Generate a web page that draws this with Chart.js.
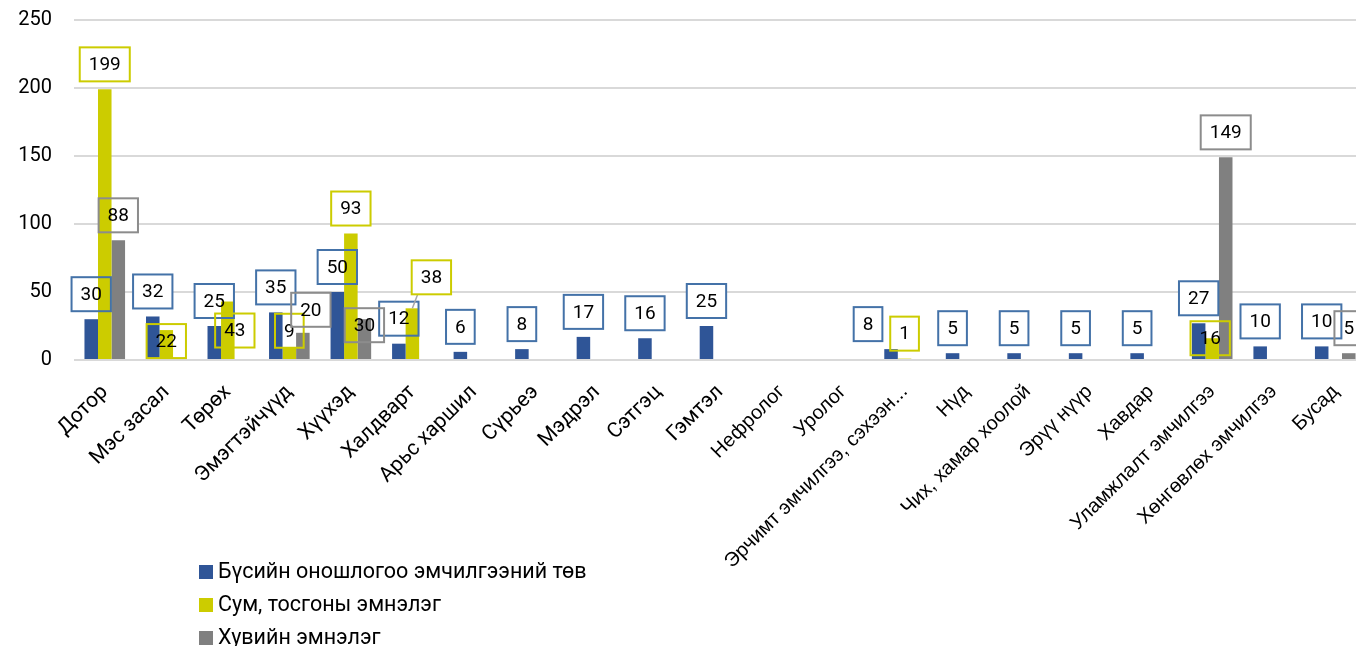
<!DOCTYPE html>
<html>
<head>
<meta charset="utf-8">
<script src="https://cdn.jsdelivr.net/npm/chart.js@4"></script>
<style>
  html, body { margin: 0; padding: 0; background: #fff; overflow: hidden; }
  .wrap { position: absolute; left: 0; top: 0; width: 1366px; height: 662px; }
</style>
</head>
<body>
<div class="wrap"><canvas class="chart"></canvas></div>
<script>
const categories = [
  "Дотор", "Мэс засал", "Төрөх", "Эмэгтэйчүүд", "Хүүхэд", "Халдварт",
  "Арьс харшил", "Сүрьеэ", "Мэдрэл", "Сэтгэц", "Гэмтэл", "Нефролог",
  "Уролог", "Эрчимт эмчилгээ, сэхээн...", "Нүд", "Чих, хамар хоолой",
  "Эрүү нүүр", "Хавдар", "Уламжлалт эмчилгээ", "Хөнгөвлөх эмчилгээ", "Бусад"
];
const seriesNames = [
  "Бүсийн оношлогоо эмчилгээний төв",
  "Сум, тосгоны эмнэлэг",
  "Хувийн эмнэлэг"
];
const regionalCenter = [30, 32, 25, 35, 50, 12, 6, 8, 17, 16, 25, null, null, 8, 5, 5, 5, 5, 27, 10, 10];
const villageHospital = [199, 22, 43, 9, 93, 38, null, null, null, null, null, null, null, 1, null, null, null, null, 16, null, null];
const privateHospital = [88, null, null, 20, 30, null, null, null, null, null, null, null, null, null, null, null, null, null, 149, null, 5];
const yTicks = [0, 50, 100, 150, 200, 250];

const colors = ["#2F5597", "#CCCC00", "#808080"];
const labelBorders = ["#4472A8", "#CCCC00", "#8C8C8C"];

// hand-moved labels, like in the original sheet: "dataset-index": [dx, dy]
const labelNudge = {
  "1-1": [0, 36], "1-2": [7, 54], "1-3": [0, 8], "2-3": [8, 2],
  "2-4": [0, 31], "1-5": [19, -6], "0-13": [-23, 0], "1-18": [-2, 25]
};
const leaderLines = ["1-5"];

const labelFont = "19px Roboto";

function labelBoxes(chart) {
  const ctx = chart.ctx;
  const out = [];
  ctx.save();
  ctx.font = labelFont;
  chart.data.datasets.forEach((ds, di) => {
    const meta = chart.getDatasetMeta(di);
    ds.data.forEach((v, i) => {
      if (v === null || v === undefined) return;
      const bar = meta.data[i];
      const text = String(v);
      const w = ctx.measureText(text).width + 18;
      const h = 34;
      const nudge = labelNudge[di + "-" + i] || [0, 0];
      const cx = bar.x + nudge[0];
      const cy = bar.y - 25 + nudge[1];
      out.push({ di, i, text, bar, x: cx - w / 2, y: cy - h / 2, w, h, cx, cy });
    });
  });
  ctx.restore();
  return out;
}

const boxLabels = {
  id: "boxLabels",
  beforeDatasetsDraw(chart) {
    const ctx = chart.ctx;
    ctx.save();
    ctx.fillStyle = "#fff";
    labelBoxes(chart).forEach(b => ctx.fillRect(b.x, b.y, b.w, b.h));
    ctx.restore();
  },
  afterDatasetsDraw(chart) {
    const ctx = chart.ctx;
    ctx.save();
    labelBoxes(chart).forEach(b => {
      if (leaderLines.includes(b.di + "-" + b.i)) {
        ctx.strokeStyle = "#A6A6A6";
        ctx.lineWidth = 1.5;
        ctx.beginPath();
        ctx.moveTo(b.x + 6, b.y + b.h);
        ctx.lineTo(b.bar.x, b.bar.y);
        ctx.stroke();
      }
      ctx.strokeStyle = labelBorders[b.di];
      ctx.lineWidth = 2;
      ctx.strokeRect(b.x, b.y, b.w, b.h);
      ctx.fillStyle = "#000";
      ctx.font = labelFont;
      ctx.textAlign = "center";
      ctx.textBaseline = "middle";
      ctx.fillText(b.text, b.cx, b.cy + 1);
    });
    ctx.restore();
  }
};

const sideLegend = {
  id: "sideLegend",
  afterDraw(chart) {
    const ctx = chart.ctx;
    ctx.save();
    ctx.font = "21.5px Roboto";
    ctx.textBaseline = "middle";
    chart.data.datasets.forEach((ds, di) => {
      const y = 572 + di * 33;
      ctx.fillStyle = colors[di];
      ctx.fillRect(199, y - 7, 14, 14);
      ctx.fillStyle = "#000";
      ctx.fillText(ds.label, 218, y + 1);
    });
    ctx.restore();
  }
};

const chart = document.querySelector(".chart");
const data = {
  labels: categories,
  datasets: [
    { label: seriesNames[0], data: regionalCenter, backgroundColor: colors[0] },
    { label: seriesNames[1], data: villageHospital, backgroundColor: colors[1] },
    { label: seriesNames[2], data: privateHospital, backgroundColor: colors[2] }
  ]
};

const config = {
  type: "bar",
  data: data,
  options: {
    responsive: true,
    maintainAspectRatio: false,
    animation: false,
    layout: { padding: { top: 20, bottom: 87, left: 0, right: 0 } },
    datasets: {
      bar: { categoryPercentage: 0.66, barPercentage: 1 }
    },
    plugins: {
      legend: { display: false },
      tooltip: { enabled: false }
    },
    scales: {
      x: {
        grid: { display: false },
        border: { display: false },
        afterFit: (scale) => { scale.height = 215; },
        ticks: {
          autoSkip: false,
          maxRotation: 45,
          minRotation: 45,
          padding: 12,
          color: "#000",
          font: (c) => c.index <= 10
            ? { family: "Roboto", size: 21 }
            : { family: "Liberation Sans", size: 20 }
        }
      },
      y: {
        min: 0,
        max: 250,
        afterFit: (scale) => {
          scale.width = 74;
          scale.paddingTop = 0;
          scale.paddingBottom = 0;
        },
        afterBuildTicks: (scale) => { scale.ticks = yTicks.map(v => ({ value: v })); },
        border: { display: false },
        grid: { color: "#D9D9D9", lineWidth: 2, drawTicks: false },
        ticks: {
          padding: 22,
          color: "#000",
          font: { family: "Roboto", size: 20 }
        }
      }
    }
  },
  plugins: [boxLabels, sideLegend]
};

new Chart(chart, config);
</script>
</body>
</html>
